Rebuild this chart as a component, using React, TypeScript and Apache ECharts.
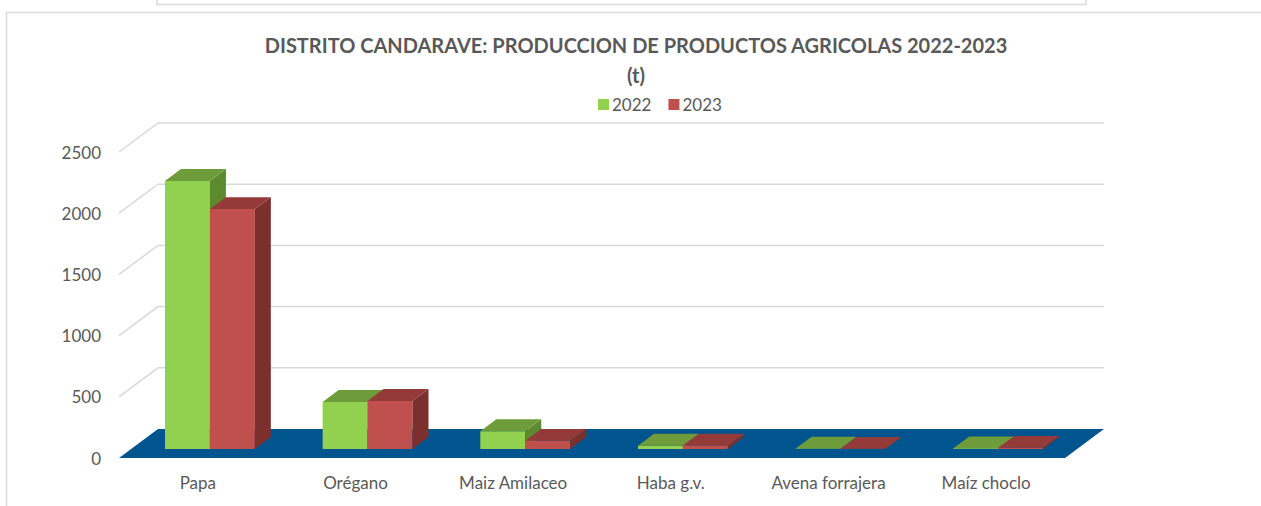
import React, { useEffect, useRef } from "react";
import * as echarts from "echarts";

const categories = ["Papa", "Orégano", "Maiz Amilaceo", "Haba g.v.", "Avena forrajera", "Maíz choclo"];
const values2022 = [2190, 385, 145, 27, 4, 6];
const values2023 = [1960, 393, 67, 28, 2, 10];
const yTicks = [500, 1000, 1500, 2000, 2500];
const seriesNames = ["2022", "2023"];

const DX = 39;
const DY = -29;
const F1 = 0.31;
const F2 = 0.72;
const BAR_RATIO = 0.285;

const FONT = "Lato";
const TEXT_COLOR = "#595959";

const barColors = [
  { front: "#92D050", top: "#6E9C3A", side: "#5E8A2F" },
  { front: "#C0504D", top: "#943A38", side: "#7B302E" },
];

function makeBarRender(s: number) {
  const c = barColors[s];
  return (params: any, api: any) => {
    const i = api.value(0);
    const v = api.value(1);
    const base = api.coord([i, 0]);
    const top = api.coord([i, v]);
    const catW = api.size([1, 0])[0];
    const bw = catW * BAR_RATIO;
    const xl = base[0] - bw + s * bw;
    const xr = xl + bw;
    const y0 = base[1];
    const yv = top[1];
    const dx1 = DX * F1, dy1 = DY * F1, dx2 = DX * F2, dy2 = DY * F2;
    return {
      type: "group",
      children: [
        {
          type: "rect",
          shape: { x: xl + dx1, y: yv + dy1, width: bw, height: Math.max(y0 - yv, 0) },
          style: { fill: c.front },
        },
        {
          type: "polygon",
          shape: {
            points: [
              [xr + dx1, yv + dy1],
              [xr + dx2, yv + dy2],
              [xr + dx2, y0 + dy2],
              [xr + dx1, y0 + dy1],
            ],
          },
          style: { fill: c.side },
        },
        {
          type: "polygon",
          shape: {
            points: [
              [xl + dx1, yv + dy1],
              [xr + dx1, yv + dy1],
              [xr + dx2, yv + dy2],
              [xl + dx2, yv + dy2],
            ],
          },
          style: { fill: c.top },
        },
      ],
    };
  };
}

export default function App() {
  const ref = useRef<HTMLDivElement>(null);
  useEffect(() => {
    if (!ref.current) return;
    const chart = echarts.init(ref.current, null, { renderer: "svg" });
    const option: any = {
      animation: false,
      backgroundColor: "#ffffff",
      textStyle: { fontFamily: FONT },
      graphic: [
        {
          type: "rect",
          shape: { x: 157, y: -10, width: 929, height: 14.5 },
          style: { fill: "none", stroke: "#D9D9D9", lineWidth: 1.5 },
          silent: true,
        },
        {
          type: "rect",
          shape: { x: 6.5, y: 12.5, width: 1300, height: 600 },
          style: { fill: "none", stroke: "#D9D9D9", lineWidth: 1.5 },
          silent: true,
        },
        {
          type: "text",
          x: 636,
          y: 45,
          style: {
            text: "DISTRITO CANDARAVE: PRODUCCION DE PRODUCTOS AGRICOLAS 2022-2023",
            fill: TEXT_COLOR,
            font: `bold 20px ${FONT}`,
            textAlign: "center",
            textVerticalAlign: "middle",
          },
        },
        {
          type: "text",
          x: 636,
          y: 75,
          style: {
            text: "(t)",
            fill: TEXT_COLOR,
            font: `bold 20px ${FONT}`,
            textAlign: "center",
            textVerticalAlign: "middle",
          },
        },
      ],
      legend: {
        data: seriesNames,
        left: 593,
        top: 91,
        icon: "rect",
        itemWidth: 11,
        itemHeight: 11,
        itemGap: 17,
        textStyle: { color: TEXT_COLOR, fontSize: 17, fontFamily: FONT, padding: [0, 0, 0, -2] },
      },
      grid: { left: 119, right: 196, top: 152, bottom: 48 },
      xAxis: {
        type: "category",
        data: categories,
        axisLine: { show: false },
        axisTick: { show: false },
        axisLabel: { color: TEXT_COLOR, fontSize: 17, fontFamily: FONT, margin: 16 },
        splitLine: { show: false },
      },
      yAxis: {
        type: "value",
        min: 0,
        max: 2500,
        interval: 500,
        axisLine: { show: false },
        axisTick: { show: false },
        axisLabel: {
          color: TEXT_COLOR,
          fontSize: 17,
          fontFamily: FONT,
          margin: 18,
          formatter: (v: number) => String(v),
        },
        splitLine: { show: false },
      },
      series: [
        {
          type: "custom",
          name: "wall",
          silent: true,
          clip: false,
          data: yTicks.map((v) => [0, v]),
          encode: { x: 0, y: 1 },
          renderItem: (params: any, api: any) => {
            const p = api.coord([0, api.value(1)]);
            const cs = params.coordSys;
            return {
              type: "polyline",
              shape: {
                points: [
                  [cs.x, p[1]],
                  [cs.x + DX, p[1] + DY],
                  [cs.x + cs.width + DX, p[1] + DY],
                ],
              },
              style: { fill: "none", stroke: "#D9D9D9", lineWidth: 1.5 },
            };
          },
        },
        {
          type: "custom",
          name: "floor",
          silent: true,
          clip: false,
          data: [[0, 0]],
          encode: { x: 0, y: 1 },
          renderItem: (params: any, api: any) => {
            const p = api.coord([0, 0]);
            const cs = params.coordSys;
            const y0 = p[1];
            return {
              type: "polygon",
              shape: {
                points: [
                  [cs.x, y0],
                  [cs.x + DX, y0 + DY],
                  [cs.x + cs.width + DX, y0 + DY],
                  [cs.x + cs.width, y0],
                ],
              },
              style: { fill: "#00558F" },
            };
          },
        },
        {
          type: "custom",
          name: seriesNames[0],
          clip: false,
          itemStyle: { color: barColors[0].front },
          data: values2022.map((v, i) => [i, v]),
          encode: { x: 0, y: 1 },
          renderItem: makeBarRender(0),
        },
        {
          type: "custom",
          name: seriesNames[1],
          clip: false,
          itemStyle: { color: barColors[1].front },
          data: values2023.map((v, i) => [i, v]),
          encode: { x: 0, y: 1 },
          renderItem: makeBarRender(1),
        },
      ],
    };
    chart.setOption(option);
    return () => chart.dispose();
  }, []);
  return (
    <div
      ref={ref}
      style={{ position: "fixed", left: 0, top: 0, width: 1261, height: 506 }}
    />
  );
}
